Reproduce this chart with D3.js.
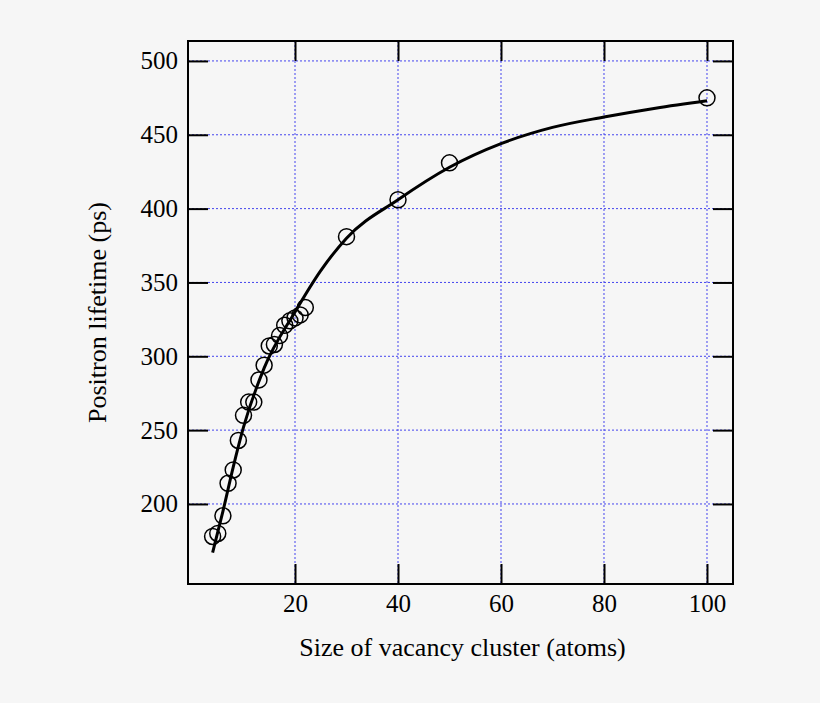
<!DOCTYPE html><html><head><script src="https://d3js.org/d3.v7.min.js"></script>
<style>body{margin:0;background:#f6f6f6}</style></head><body><svg width="820" height="703"></svg>
<script>
const sizes=[4,5,6,7,8,9,10,11,12,13,14,15,16,17,18,19,20,21,22,30,40,50,100];
const lifetimes=[178,180,192,214,223,243,260,269,269,284,294,307,308,314,321,324,326,328,333,381,406,431,475];
const fitX=[4,6,8,10,14,20,25,30,40,50,60,70,80,90,100];
const fitY=[167,195,225,252,292,330,358,380,406,428,444,455,462,468,473];
const xTicks=[20,40,60,80,100], yTicks=[200,250,300,350,400,450,500];
const svg=d3.select("svg"),L=188,R=733,T=41,B=584;
const x=d3.scaleLinear().domain([-0.78,105.05]).range([L,R]);
const y=d3.scaleLinear().domain([145.8,513.5]).range([B,T]);
const g=svg.append("g");
g.selectAll(".gx").data(xTicks).join("line").attr("x1",d=>x(d)).attr("x2",d=>x(d)).attr("y1",T).attr("y2",B).attr("stroke","#4444ee").attr("stroke-dasharray","2,2");
g.selectAll(".gy").data(yTicks).join("line").attr("y1",d=>y(d)).attr("y2",d=>y(d)).attr("x1",L).attr("x2",R).attr("stroke","#4444ee").attr("stroke-dasharray","2,2");
svg.append("g").attr("transform",`translate(0,${B})`).call(d3.axisBottom(x).tickValues(xTicks).tickSize(-20).tickPadding(10)).call(a=>{a.select(".domain").remove()});
svg.append("g").attr("transform",`translate(0,${T})`).call(d3.axisTop(x).tickValues(xTicks).tickSize(-20).tickFormat("")).call(a=>a.select(".domain").remove());
svg.append("g").attr("transform",`translate(${L},0)`).call(d3.axisLeft(y).tickValues(yTicks).tickSize(-20).tickPadding(10)).call(a=>a.select(".domain").remove());
svg.append("g").attr("transform",`translate(${R},0)`).call(d3.axisRight(y).tickValues(yTicks).tickSize(-20).tickFormat("")).call(a=>a.select(".domain").remove());
svg.selectAll(".tick line").attr("stroke","#000").attr("stroke-width",2);
svg.selectAll(".tick text").style("font-family","Liberation Serif").style("font-size","25px").attr("fill","#000");
svg.append("rect").attr("x",L).attr("y",T).attr("width",R-L).attr("height",B-T).attr("fill","none").attr("stroke","#000").attr("stroke-width",2);
svg.append("path").datum(fitX.map((d,i)=>[d,fitY[i]])).attr("d",d3.line().x(d=>x(d[0])).y(d=>y(d[1])).curve(d3.curveMonotoneX)).attr("fill","none").attr("stroke","#000").attr("stroke-width",3);
svg.selectAll(".pt").data(sizes).join("circle").attr("cx",d=>x(d)).attr("cy",(d,i)=>y(lifetimes[i])).attr("r",8).attr("fill","none").attr("stroke","#000").attr("stroke-width",1.5);
svg.append("text").attr("x",(L+R)/2+2).attr("y",656).attr("text-anchor","middle").style("font-family","Liberation Serif").style("font-size","26px").text("Size of vacancy cluster (atoms)");
svg.append("text").attr("transform",`translate(106,${(T+B)/2}) rotate(-90)`).attr("text-anchor","middle").style("font-family","Liberation Serif").style("font-size","26px").text("Positron lifetime (ps)");
</script></body></html>
